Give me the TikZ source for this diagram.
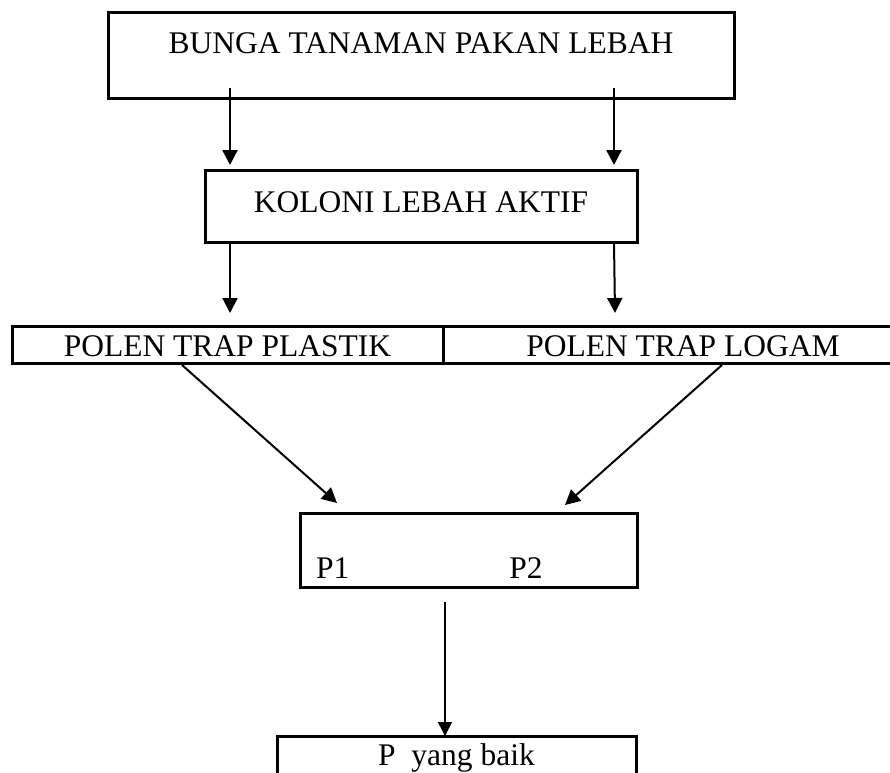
\documentclass[tikz,border=0pt]{standalone}
\usepackage{fontspec}
\setmainfont{Liberation Serif}
\usetikzlibrary{arrows.meta}
\begin{document}
\begin{tikzpicture}
[
 x=1pt, y=-1pt,
 every node/.style ={font=\fontsize{31.5}{38}\selectfont},
 inner sep=0pt, outer sep=0pt,
 BOX/.style={rectangle, draw=black, line width=3pt},
 ARROW/.style={-{Triangle[length=15pt,width=15pt]}, line width=2pt},
 THICKARROW/.style={ARROW, line width=2.5pt},
 THINARROW/.style={-{Triangle[length=14pt,width=14pt]}, line width=1.5pt},
 ]
%
\useasboundingbox (0,0) rectangle (890,772);
%
\node [BOX, anchor=north, minimum width=626pt, text height=41pt, text depth=45pt]
      (BUNGA)   at (421,12)  {BUNGA TANAMAN PAKAN LEBAH};
\node [BOX, anchor=north, minimum width=432pt, text height=42pt, text depth=30pt]
      (KOLONI)  at (421,170) {KOLONI LEBAH AKTIF};
%
\node [BOX, anchor=north west, minimum width=431pt, text height=30pt, text depth=7pt]
      (PLASTIK) at (12,326)  {POLEN TRAP PLASTIK\hspace{26pt}};
\node [BOX, anchor=north west, minimum width=480pt, text height=30pt, text depth=7pt]
      (LOGAM)   at (443,326) {POLEN TRAP LOGAM};
%
\node [BOX, anchor=north west, inner xsep=16pt, text height=65pt, text depth=9pt]
      (PP)      at (300,513) {\makebox[305pt][l]{P1\hspace{160pt}P2}};
\node [BOX, anchor=north west, minimum width=359pt, text height=29pt, text depth=20pt]
      (BAIK)    at (277,736) {P\ \ yang baik};
%
\coordinate (S1) at (230,88);   \coordinate (E1) at (230,165);
\coordinate (S2) at (614,88);   \coordinate (E2) at (614,165);
\coordinate (S3) at (230,243);  \coordinate (E3) at (230,313);
\coordinate (S4) at (614,243);  \coordinate (E4) at (615,313);
\coordinate (S5) at (182,365);  \coordinate (E5) at (337,503);
\coordinate (S6) at (722,365);  \coordinate (E6) at (565,505);
\coordinate (S7) at (445,602);  \coordinate (E7) at (445,736);
%
\draw [THICKARROW]  (S1) -- (E1) ;
\draw [THICKARROW]  (S2) -- (E2) ;
\draw [ARROW]  (S3) -- (E3) ;
\draw [ARROW]  (S4) -- (E4) ;
%
\draw [ARROW]  (S5) -- (E5) ;
\draw [ARROW]  (S6) -- (E6) ;
%
\draw [THINARROW]  (S7) -- (E7) ;
%
\end{tikzpicture}
\end{document}
